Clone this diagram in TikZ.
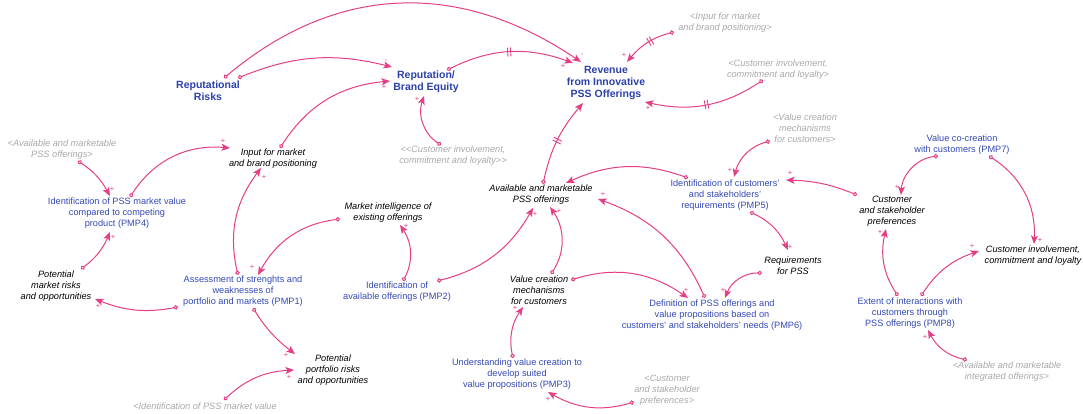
\documentclass[tikz,border=0pt]{standalone}
\usepackage{fontspec}
\setmainfont{Liberation Sans}
\usepackage[]{tikz}
\usetikzlibrary{arrows.meta,calc,decorations.markings}
\definecolor{linkpink}{RGB}{228,62,132}
\definecolor{pmpblue}{RGB}{52,72,180}
\definecolor{stockblue}{RGB}{44,64,170}
\definecolor{ghostgray}{RGB}{168,168,168}
\tikzset{link/.style={draw=linkpink,line width=1pt,arrows={Circle[length=4.5pt,fill=white]-Stealth[length=8.5pt,width=7pt,inset=2pt]}}}
\tikzset{delaymark/.style={postaction={decorate,decoration={markings,mark=at position #1 with {\draw[linkpink,line width=0.9pt,arrows=-] (-1.5pt,-4.5pt) -- (-1.5pt,4.5pt) (1.5pt,-4.5pt) -- (1.5pt,4.5pt);}}}}}
\tikzset{stock/.style={align=center,inner sep=1pt,text=stockblue,font=\fontsize{10.5}{12}\selectfont\bfseries}}
\tikzset{pmp/.style={align=center,inner sep=1pt,text=pmpblue,font=\fontsize{9.2}{11}\selectfont}}
\tikzset{var/.style={align=center,inner sep=1pt,font=\fontsize{9.2}{11}\selectfont\itshape}}
\tikzset{ghost/.style={align=center,inner sep=1pt,text=ghostgray,font=\fontsize{9.2}{11}\selectfont\itshape}}
\tikzset{sgn/.style={inner sep=0pt,text=linkpink,font=\fontsize{7.5}{7.5}\selectfont}}

\begin{document}
\begin{tikzpicture}[x=1pt,y=-1pt] % 像素坐标, y 向下
\useasboundingbox (0,0) rectangle (1083,414);
% 主要变量
\node[stock] (RR) at (208,91) {Reputational\\Risks};
\node[stock] (RBE) at (426,82) {Reputation/\\Brand Equity};
\node[stock] (REV) at (606,83) {Revenue\\from Innovative\\PSS Offerings};
% PMP
\node[pmp] (PMP4) at (117,213) {Identification of PSS market value\\compared to competing\\product (PMP4)};
\node[pmp] (PMP1) at (243,291) {Assessment of strenghts and\\weaknesses of\\portfolio and markets (PMP1)};
\node[pmp] (PMP2) at (397,292) {Identification of\\available offerings (PMP2)};
\node[pmp] (PMP3) at (517,374) {Understanding value creation to\\develop suited\\value propositions (PMP3)};
\node[pmp] (PMP5) at (725,195) {Identification of customers'\\and stakeholders'\\requirements (PMP5)};
\node[pmp] (PMP6) at (712,315) {Definition of PSS offerings and\\value propositions based on\\customers' and stakeholders' needs (PMP6)};
\node[pmp] (VCC) at (962,145) {Value co-creation\\with customers (PMP7)};
\node[pmp] (PMP8) at (910,313) {Extent of interactions with\\customers through\\PSS offerings (PMP8)};
% 辅助变量
\node[var] (Input) at (273,159) {Input for market\\and brand positioning};
\node[var] (MI) at (388,213) {Market intelligence of\\existing offerings};
\node[var] (AV) at (541,195) {Available and marketable\\PSS offerings};
\node[var] (CSP) at (892,211) {Customer\\and stakeholder\\preferences};
\node[var] (PMR) at (56,286) {Potential\\market risks\\and opportunities};
\node[var] (VCM) at (539,290) {Value creation\\mechanisms\\for customers};
\node[var] (ReqPSS) at (793,266) {Requirements\\for PSS};
\node[var] (CIL) at (1033,256) {Customer involvement,\\commitment and loyalty};
\node[var] (PPR) at (333,370) {Potential\\portfolio risks\\and opportunities};
% 影子变量
\node[ghost] (GInput) at (725,23) {<Input for market\\and brand positioning>};
\node[ghost] (GCust1) at (778,70) {<Customer involvement,\\commitment and loyalty>};
\node[ghost] (GCust2) at (453,156) {<{}<Customer involvement,\\commitment and loyalty>{}>};
\node[ghost] (GVal) at (805,128) {<Value creation\\mechanisms\\for customers>};
\node[ghost] (GAvail) at (62,150) {<Available and marketable\\PSS offerings>};
\node[ghost] (GCSP) at (667,390) {<Customer\\and stakeholder\\preferences>};
\node[ghost] (GAvInt) at (1007,372) {<Available and marketable\\integrated offerings>};
\node[ghost] (GPMV) at (205,406) {<Identification of PSS market value};
% 因果连线
\draw[link] ($(RR)+(16,-13)$) to[out=40,in=146,looseness=1.05] ($(REV)+(-25,-21)$);
\draw[link] ($(RR)+(30,-13)$) to[bend left=18] ($(RBE)+(-34,-15)$);
\draw[link] ($(Input)+(7,-11)$) to[bend left=26] ($(RBE)+(-36,-1)$);
\draw[link,delaymark=0.5] ($(RBE)+(21,-12)$) to[bend left=23] ($(REV)+(-33,-20)$);
\draw[link,delaymark=0.45] ($(GInput)+(-51,9)$) to[bend right=18] ($(REV)+(21,-21)$);
\draw[link,delaymark=0.5] ($(GCust1)+(-15,10)$) to[bend left=23] ($(REV)+(39,19)$);
\draw[link,delaymark=0.5] ($(AV)+(2,-11)$) to[bend left=14] ($(REV)+(-23,20)$);
\draw[link] ($(GCust2)+(-12,-11)$) to[bend left=38] ($(RBE)+(-2,14)$);
\draw[link] ($(GAvail)+(16,11)$) to[bend left=14] ($(PMP4)+(-7,-17)$);
\draw[link] ($(PMP4)+(13,-16)$) to[bend left=31] ($(Input)+(-43,-11)$);
\draw[link] ($(PMP1)+(-5,-16)$) to[bend left=25] ($(Input)+(-12,9)$);
\draw[link] ($(MI)+(-48,6)$) to[bend right=27] ($(PMP1)+(15,-16)$);
\draw[link] ($(PMP2)+(6,-11)$) to[bend right=31] ($(MI)+(12,12)$);
\draw[link] ($(PMP2)+(40,-11)$) to[bend right=23] ($(AV)+(-8,13)$);
\draw[link] ($(VCM)+(12,-16)$) to[bend right=34] ($(AV)+(9,12)$);
\draw[link] ($(VCM)+(32,-10)$) to[bend left=26] ($(PMP6)+(-24,-17)$);
\draw[link] ($(PMP6)+(-7,-17)$) to[bend right=23] ($(AV)+(57,4)$);
\draw[link] ($(PMP5)+(-37,-17)$) to[bend right=22] ($(AV)+(25,-12)$);
\draw[link] ($(PMP5)+(25,17)$) to[bend left=20] ($(ReqPSS)+(-5,-16)$);
\draw[link] ($(ReqPSS)+(-31,7)$) to[bend right=35] ($(PMP6)+(13,-17)$);
\draw[link] ($(GVal)+(-35,13)$) to[bend right=30] ($(PMP5)+(9,-18)$);
\draw[link] ($(CSP)+(-35,-16)$) to[bend right=10] ($(PMP5)+(61,-15)$);
\draw[link] ($(VCC)+(-24,11)$) to[bend right=40] ($(CSP)+(9,-16)$);
\draw[link] ($(VCC)+(27,11)$) to[bend left=30] ($(CIL)+(1,-12)$);
\draw[link] ($(PMP8)+(-12,-17)$) to[bend left=23] ($(CSP)+(-6,18)$);
\draw[link] ($(PMP8)+(11,-17)$) to[bend left=19] ($(CIL)+(-54,-5)$);
\draw[link] ($(GAvInt)+(-40,-12)$) to[bend left=25] ($(PMP8)+(18,17)$);
\draw[link] ($(PMR)+(25,-17)$) to[bend right=15] ($(PMP4)+(-7,19)$);
\draw[link] ($(PMP1)+(-65,16)$) to[bend left=16] ($(PMR)+(39,13)$);
\draw[link] ($(PMP1)+(10,17)$) to[bend right=10] ($(PPR)+(-38,-16)$);
\draw[link] ($(GPMV)+(19,-6)$) to[bend left=20] ($(PPR)+(-39,0)$);
\draw[link] ($(PMP3)+(-4,-16)$) to[bend left=23] ($(VCM)+(-16,17)$);
\draw[link] ($(GCSP)+(-33,12)$) to[bend left=23] ($(PMP3)+(31,18)$);
% 极性符号
\node[sgn] (s1) at (582,55) {-};
\node[sgn] (s2) at (386,61) {-};
\node[sgn] (s3) at (384,87) {+};
\node[sgn] (s4) at (563,66) {+};
\node[sgn] (s5) at (624,55) {+};
\node[sgn] (s6) at (648,108) {+};
\node[sgn] (s8) at (417,99) {+};
\node[sgn] (s9) at (112,189) {+};
\node[sgn] (s10) at (223,141) {+};
\node[sgn] (s11) at (264,177) {+};
\node[sgn] (s12) at (252,267) {+};
\node[sgn] (s13) at (406,226) {+};
\node[sgn] (s14) at (535,214) {+};
\node[sgn] (s15) at (559,211) {+};
\node[sgn] (s16) at (686,290) {+};
\node[sgn] (s17) at (603,194) {+};
\node[sgn] (s19) at (790,247) {+};
\node[sgn] (s20) at (723,290) {+};
\node[sgn] (s21) at (730,170) {+};
\node[sgn] (s22) at (790,173) {+};
\node[sgn] (s23) at (897,187) {+};
\node[sgn] (s24) at (1040,240) {+};
\node[sgn] (s25) at (880,232) {+};
\node[sgn] (s26) at (972,246) {+};
\node[sgn] (s27) at (925,337) {+};
\node[sgn] (s28) at (113,237) {+};
\node[sgn] (s29) at (98,306) {+};
\node[sgn] (s30) at (286,355) {+};
\node[sgn] (s31) at (289,377) {+};
\node[sgn] (s32) at (515,308) {+};
\node[sgn] (s33) at (548,399) {+};
\end{tikzpicture}
\end{document}
